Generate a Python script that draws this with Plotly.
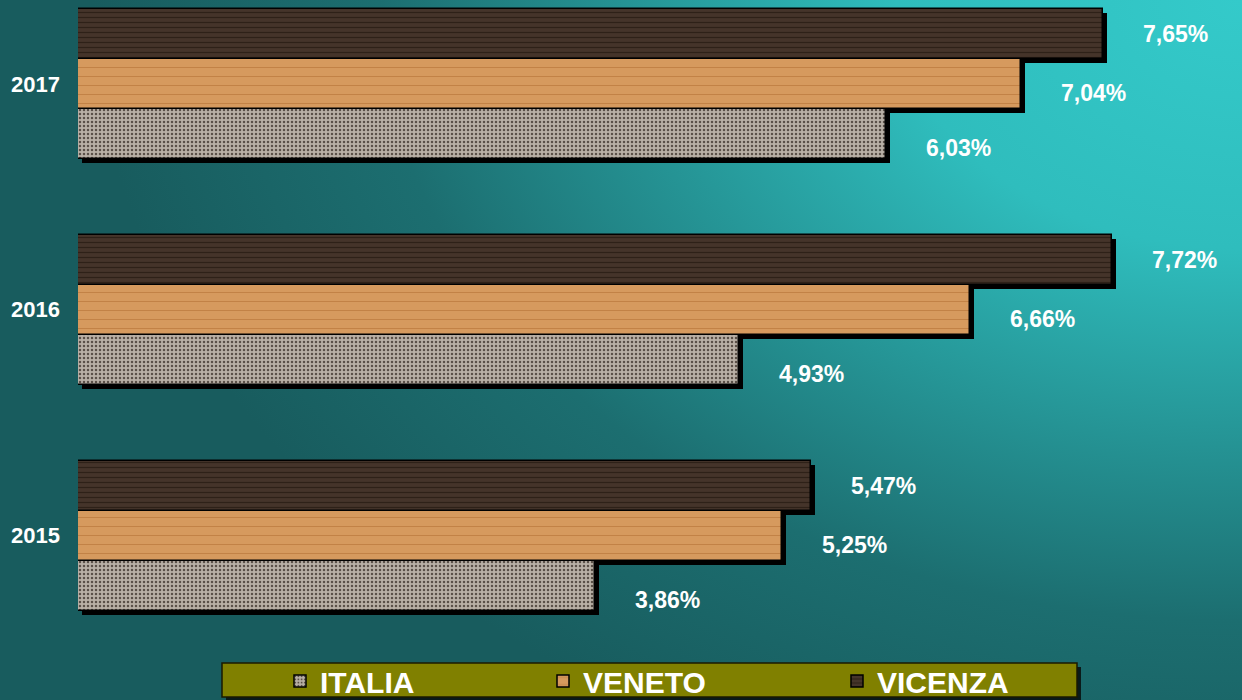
import base64
import plotly.graph_objects as go

# ---- data ----
years = ["2015", "2016", "2017"]
series_names = ["ITALIA", "VENETO", "VICENZA"]
italia = [3.86, 4.93, 6.03]
veneto = [5.25, 6.66, 7.04]
vicenza = [5.47, 7.72, 7.65]
values = [italia, veneto, vicenza]

# ---- styles ----
W, H = 1242, 700
ML, MR, MT, MB = 78, 25, 0, 50
plot_w = W - ML - MR
plot_h = H - MT - MB
x_range = [0, 8.5]
y_range = [-0.507, 2.372]
bar_w = 0.2215
px_x = plot_w / (x_range[1] - x_range[0])
px_y = plot_h / (y_range[1] - y_range[0])

styles = [
    dict(shape=".", fg="#5a5048", bg="#b9b0a6", size=4, solidity=0.3),
    dict(shape="-", fg="#bf7f43", bg="#d69a5e", size=9, solidity=0.1),
    dict(shape="-", fg="#2e2118", bg="#45342a", size=5, solidity=0.25),
]
label_dy = [-14, -9, 0]        # label vertical nudge (px) per series
legend_px = [280, 543, 837]    # legend entry left edge (px) per series
font_fam = "Liberation Sans, Arial, sans-serif"


def px2paper_x(px):
    return (px - ML) / plot_w


def px2paper_y(py):
    return 1 - (py - MT) / plot_h


fig = go.Figure()

ypos = []
for i in range(3):
    ypos.append([k + (i - 1) * bar_w for k in range(len(years))])

# shadows
for i in range(3):
    fig.add_trace(go.Bar(
        x=values[i], y=[p - 4 / px_y for p in ypos[i]], base=4 / px_x,
        orientation="h", width=bar_w, marker=dict(color="black", line=dict(width=0)),
        showlegend=False, hoverinfo="skip"))

# bars
legend_ids = ["legend", "legend2", "legend3"]
for i in range(3):
    s = styles[i]
    fig.add_trace(go.Bar(
        x=values[i], y=ypos[i], orientation="h", width=bar_w,
        name="<b>" + series_names[i] + "</b>", legend=legend_ids[i],
        marker=dict(color=s["bg"], line=dict(color="black", width=1.5),
                    pattern=dict(shape=s["shape"], fgcolor=s["fg"], bgcolor=s["bg"],
                                 size=s["size"], solidity=s["solidity"], fillmode="replace")),
    ))

# value labels
for i in range(3):
    for k in range(len(years)):
        v = values[i][k]
        fig.add_annotation(
            x=v, y=ypos[i][k], xref="x", yref="y", xanchor="left", yanchor="middle",
            text="<b>" + f"{v:.2f}".replace(".", ",") + "%</b>", showarrow=False,
            xshift=38, yshift=label_dy[i], font=dict(color="white", size=23, family=font_fam))

# background gradient image
svg = ('<svg xmlns="http://www.w3.org/2000/svg" width="1242" height="700">'
       '<defs><radialGradient id="g" gradientUnits="userSpaceOnUse" cx="1242" cy="0" r="1150" '
       'gradientTransform="translate(1242 0) scale(1 0.72) translate(-1242 0)">'
       '<stop offset="0" stop-color="#34caca"/><stop offset="0.3" stop-color="#2fbdbd"/>'
       '<stop offset="0.75" stop-color="#1c6e70"/><stop offset="1" stop-color="#185c5e"/>'
       '</radialGradient></defs><rect width="1242" height="700" fill="url(#g)"/></svg>')
src = "data:image/svg+xml;base64," + base64.b64encode(svg.encode()).decode()
fig.add_layout_image(dict(source=src, xref="paper", yref="paper",
                          x=-ML / plot_w, y=1 + MT / plot_h, sizex=W / plot_w, sizey=H / plot_h,
                          xanchor="left", yanchor="top", sizing="stretch", layer="below"))

# legend box
fig.add_shape(type="rect", xref="paper", yref="paper",
              x0=px2paper_x(226), x1=px2paper_x(1081), y0=px2paper_y(701), y1=px2paper_y(667),
              fillcolor="#0a1a1a", line=dict(width=0), layer="above")
fig.add_shape(type="rect", xref="paper", yref="paper",
              x0=px2paper_x(222), x1=px2paper_x(1077), y0=px2paper_y(697), y1=px2paper_y(663),
              fillcolor="#808000", line=dict(color="#1a1a00", width=1.5), layer="above")

legend_common = dict(orientation="h", xanchor="left", y=px2paper_y(681), yanchor="middle",
                     bgcolor="rgba(0,0,0,0)", borderwidth=0,
                     font=dict(color="white", size=30, family=font_fam))

fig.update_layout(
    width=W, height=H, margin=dict(l=ML, r=MR, t=MT, b=MB, autoexpand=False),
    paper_bgcolor="#1a6464", plot_bgcolor="rgba(0,0,0,0)",
    barmode="overlay", bargap=0,
    xaxis=dict(range=x_range, showgrid=False, zeroline=False, showticklabels=False, fixedrange=True),
    yaxis=dict(range=y_range, showgrid=False, zeroline=False, tickvals=list(range(len(years))),
               ticktext=["<b>" + y + "</b>" for y in years], ticks="",
               tickfont=dict(color="white", size=22, family=font_fam), ticklabelstandoff=17),
    legend=dict(x=px2paper_x(legend_px[0]), **legend_common),
    legend2=dict(x=px2paper_x(legend_px[1]), **legend_common),
    legend3=dict(x=px2paper_x(legend_px[2]), **legend_common),
    showlegend=True,
)

fig.write_html("out.html")
